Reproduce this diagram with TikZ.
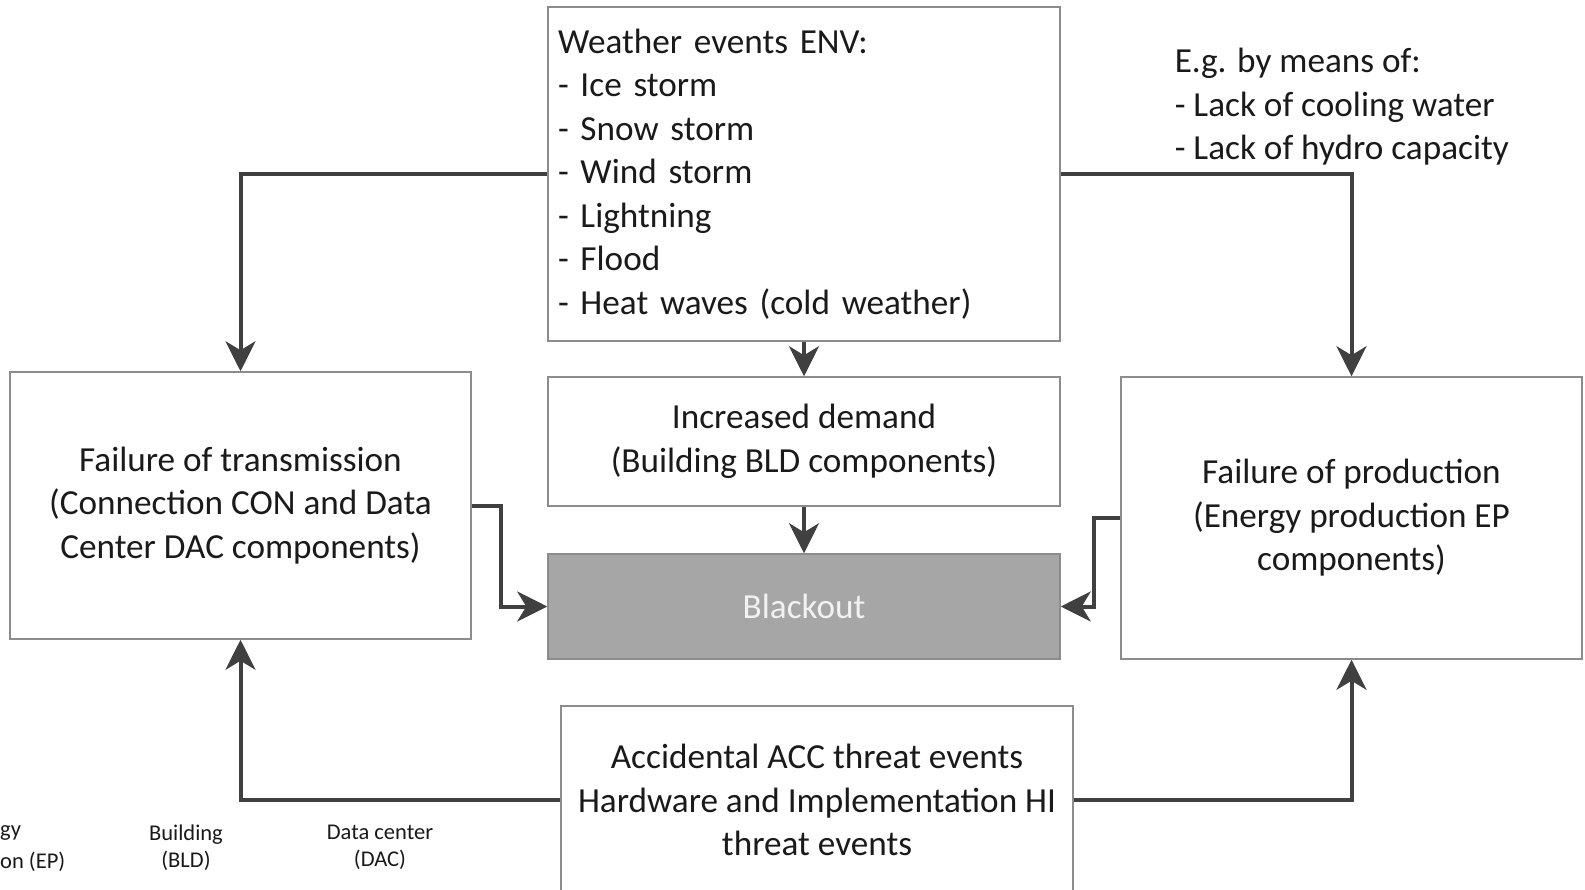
\documentclass[tikz,border=0pt]{standalone}
\usepackage{fontspec}
\setmainfont{Carlito}
\usetikzlibrary{arrows.meta,calc}
\definecolor{conncol}{HTML}{404040}
\definecolor{boxcol}{HTML}{8C8C8C}
\definecolor{blackfill}{HTML}{A6A6A6}
\definecolor{txt}{HTML}{1A1A1A}
\begin{document}
\begin{tikzpicture}[x=1pt,y=-1pt,
  box/.style={draw=boxcol,line width=1.5pt,fill=white,text=txt,align=center,
    font=\fontsize{35.2}{43.5}\selectfont,inner sep=0pt},
  conn/.style={draw=conncol,line width=4pt,line join=miter,
    -{Stealth[length=30pt,width=30pt,inset=9pt]}},
  small/.style={text=txt,font=\fontsize{22.5}{27}\selectfont,align=center,inner sep=0pt}]
\useasboundingbox[fill=white] (0,0) rectangle (1585,889);

\node[box,minimum width=512pt,minimum height=334pt,text width=492pt,align=left] (weather) at (804,174)
 {Weather events ENV:\\- Ice storm\\- Snow storm\\- Wind storm\\- Lightning\\- Flood\\- Heat waves (cold weather)};
\node[box,minimum width=461pt,minimum height=267pt] (trans) at (240.5,505.5)
 {Failure of transmission\\(Connection CON and Data\\Center DAC components)};
\node[box,minimum width=512pt,minimum height=129pt] (demand) at (804,441.5)
 {Increased demand\\(Building BLD components)};
\node[box,fill=blackfill,text=white!95!black,minimum width=512pt,minimum height=105pt] (blackout) at (804,606.5)
 {Blackout};
\node[box,minimum width=461pt,minimum height=282pt] (prod) at (1351.5,518)
 {Failure of production\\(Energy production EP\\components)};
\node[box,minimum width=512pt,minimum height=188pt] (acc) at (817,800)
 {Accidental ACC threat events\\Hardware and Implementation HI\\threat events};
\node[box,draw=none,fill=none,anchor=west,align=left] (eg) at (1174,107)
 {E.g. by means of:\\- Lack of cooling water\\- Lack of hydro capacity};

\node[small,anchor=north west] (ep1) at (0,825) {gy};
\node[small,anchor=north west] (ep2) at (0,852) {on (EP)};
\node[small,anchor=north] (bld) at (186,825) {Building\\(BLD)};
\node[small,anchor=north] (dac) at (380,825) {Data center\\(DAC)};

\draw[conn] (weather.west) -| (trans.north);
\draw[conn] (weather.east) -| (prod.north);
\draw[conn] (weather.south) -- (demand.north);
\draw[conn] (demand.south) -- (blackout.north);
\draw[conn] (trans.east) -- ++(29,0) |- (blackout.west);
\draw[conn] (prod.west) -- ++(-26,0) |- (blackout.east);
\draw[conn] (acc.west) -| (trans.south);
\draw[conn] (acc.east) -| (prod.south);
\end{tikzpicture}
\end{document}
